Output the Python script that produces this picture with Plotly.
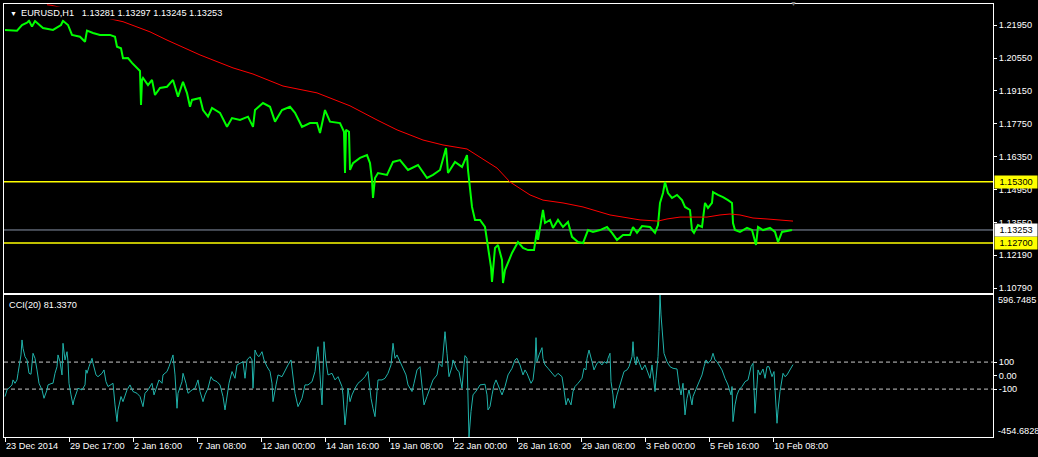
import plotly.graph_objects as go

# ---------------- data (bar index = H1 bar number from 23 Dec 2014) ----------------
price_bars = [0, 12, 17, 22, 24, 27, 30, 38, 48, 56, 58, 63, 67, 75, 80, 82, 88, 95, 105, 110,
              112, 116, 118, 123, 127, 132, 135, 136, 137, 138, 143, 147, 150, 155, 162, 168, 173, 178, 182, 185,
              187, 195, 198, 203, 207, 215, 222, 227, 235, 243, 248, 250, 258, 265, 270, 277, 285, 290, 297, 305,
              312, 315, 320, 325, 335, 339, 340, 341, 344, 345, 348, 355, 362, 365, 367, 368, 370, 373, 382, 388,
              395, 403, 413, 422, 428, 435, 441, 443, 450, 457, 462, 463, 465, 467, 470, 475, 480, 483, 486, 487,
              490, 493, 497, 498, 500, 507, 513, 518, 523, 529, 532, 533, 538, 540, 545, 548, 553, 558, 563, 567,
              573, 578, 583, 588, 595, 602, 607, 612, 618, 625, 628, 632, 637, 645, 648, 650, 653, 655, 658, 660,
              663, 667, 672, 677, 680, 685, 687, 689, 693, 697, 700, 703, 707, 708, 713, 718, 723, 727, 728, 730,
              735, 742, 747, 750, 751, 753, 758, 765, 770, 773, 777, 782, 787]
price_vals = [1.2174, 1.2171, 1.2195, 1.2205, 1.2213, 1.2188, 1.2212, 1.2182, 1.2174, 1.2195, 1.2213, 1.2195, 1.2153, 1.2145, 1.2124, 1.2171, 1.2161, 1.2153, 1.2153, 1.2145,
              1.2103, 1.2096, 1.2054, 1.2055, 1.2034, 1.2013, 1.2000, 1.1856, 1.1962, 1.1970, 1.1940, 1.1962, 1.1898, 1.1928, 1.1933, 1.1962, 1.1891, 1.1954, 1.1906, 1.1848,
              1.1877, 1.1885, 1.1834, 1.1806, 1.1843, 1.1822, 1.1763, 1.1800, 1.1792, 1.1806, 1.1763, 1.1834, 1.1864, 1.1848, 1.1785, 1.1834, 1.1848, 1.1822, 1.1763, 1.1779,
              1.1779, 1.1737, 1.1834, 1.1785, 1.1779, 1.1742, 1.1567, 1.1750, 1.1742, 1.1580, 1.1609, 1.1631, 1.1643, 1.1609, 1.1537, 1.1461, 1.1546, 1.1567, 1.1559, 1.1614,
              1.1622, 1.1580, 1.1601, 1.1546, 1.1559, 1.1580, 1.1673, 1.1567, 1.1614, 1.1593, 1.1643, 1.1580, 1.1508, 1.1423, 1.1368, 1.1368, 1.1338, 1.1262, 1.1168, 1.1105,
              1.1249, 1.1262, 1.1198, 1.1100, 1.1155, 1.1228, 1.1274, 1.1249, 1.1240, 1.1240, 1.1325, 1.1283, 1.1410, 1.1355, 1.1368, 1.1334, 1.1368, 1.1338, 1.1359, 1.1296,
              1.1274, 1.1270, 1.1325, 1.1317, 1.1325, 1.1338, 1.1313, 1.1283, 1.1304, 1.1304, 1.1338, 1.1313, 1.1342, 1.1338, 1.1325, 1.1313, 1.1346, 1.1440, 1.1482, 1.1529,
              1.1482, 1.1461, 1.1474, 1.1452, 1.1423, 1.1410, 1.1325, 1.1313, 1.1346, 1.1338, 1.1440, 1.1419, 1.1440, 1.1486, 1.1474, 1.1465, 1.1452, 1.1440, 1.1355, 1.1325,
              1.1317, 1.1334, 1.1325, 1.1283, 1.1262, 1.1338, 1.1325, 1.1334, 1.1317, 1.1274, 1.1317, 1.1321, 1.13253]

ma_bars = [42, 47, 103, 118, 145, 162, 195, 228, 248, 278, 312, 345, 372, 392, 418, 438, 462, 475, 492, 505,
           525, 538, 558, 578, 605, 635, 653, 662, 668, 675, 688, 702, 715, 725, 735, 748, 762, 775, 788]
ma_vals = [1.2281, 1.2278, 1.2223, 1.2209, 1.2166, 1.2131, 1.2068, 1.2013, 1.1987, 1.1936, 1.1907, 1.1852, 1.1792, 1.1750, 1.1707, 1.1686, 1.1669, 1.1635, 1.1588, 1.1529,
           1.1474, 1.1452, 1.1440, 1.1423, 1.1389, 1.1368, 1.1363, 1.1372, 1.1376, 1.1380, 1.1380, 1.1380, 1.1389, 1.1393, 1.1389, 1.1376, 1.1372, 1.1368, 1.1363]

cci_bars = [0, 2, 7, 8, 10, 12, 13, 16, 17, 18, 20, 22, 24, 26, 28, 30, 32, 34, 37, 39,
            42, 43, 47, 48, 50, 52, 53, 55, 57, 58, 60, 62, 63, 64, 66, 68, 69, 71, 73, 77,
            80, 81, 82, 84, 87, 88, 91, 93, 97, 99, 101, 103, 105, 108, 110, 112, 113, 116, 118, 122,
            125, 128, 132, 135, 138, 140, 143, 147, 149, 152, 154, 157, 158, 162, 164, 168, 170, 172, 173, 177,
            178, 181, 183, 187, 190, 193, 195, 198, 200, 203, 206, 208, 212, 215, 218, 220, 222, 224, 227, 230,
            232, 235, 238, 240, 242, 245, 247, 248, 250, 252, 254, 257, 259, 262, 265, 267, 268, 271, 273, 277,
            280, 283, 286, 288, 290, 293, 297, 300, 303, 307, 310, 312, 313, 315, 317, 318, 319, 321, 323, 327,
            330, 333, 337, 338, 340, 342, 343, 345, 347, 350, 353, 357, 360, 363, 366, 368, 370, 372, 373, 377,
            380, 383, 386, 388, 390, 392, 395, 398, 401, 403, 407, 409, 412, 415, 417, 419, 422, 425, 428, 432,
            434, 437, 438, 440, 442, 444, 447, 448, 450, 452, 454, 457, 459, 460, 462, 463, 464, 466, 468, 472,
            475, 480, 482, 483, 485, 487, 489, 491, 493, 497, 500, 503, 507, 510, 512, 515, 518, 520, 522, 526,
            528, 530, 531, 532, 534, 537, 538, 540, 543, 547, 550, 553, 557, 559, 561, 563, 566, 568, 570, 573,
            577, 579, 581, 582, 584, 587, 589, 592, 594, 597, 599, 602, 603, 605, 606, 608, 609, 612, 614, 617,
            619, 622, 624, 627, 628, 629, 631, 632, 634, 637, 640, 642, 645, 647, 649, 650, 651, 652, 653, 654,
            655, 656, 658, 659, 662, 665, 668, 672, 674, 676, 678, 679, 680, 682, 684, 687, 688, 690, 692, 694,
            697, 699, 701, 703, 706, 708, 710, 712, 714, 717, 720, 723, 726, 727, 728, 730, 732, 734, 737, 740,
            743, 746, 748, 749, 750, 752, 753, 755, 758, 760, 762, 764, 767, 769, 771, 772, 773, 775, 778, 780,
            782, 785, 788]
cci_vals = [-155, -106, -69, -32, -57, -32, 17, 153, 264, 202, 140, 116, 17, 10, 165, 128, 42, -57, -106, -168,
            -106, -69, -57, -57, 17, 66, 153, 103, 5, 239, 116, 177, 103, -57, -143, -217, -180, -131, -94, -106,
            -69, 42, 17, 66, 128, 91, 5, -8, 17, 42, -45, -81, -69, -57, -217, -341, -254, -155, -193, -106,
            -69, -118, -131, -155, -230, -131, -106, -57, -143, -81, -32, -57, 5, 30, 66, 153, 5, -242, -131, -45,
            17, -57, -131, -106, -94, -32, -118, -193, -143, -94, -8, -32, -45, -69, -155, -254, -143, -57, 30, -20,
            79, 91, 103, -20, 116, 140, 116, -94, 189, 153, 140, 177, 116, 66, 30, -57, -193, -69, 5, -8,
            42, 79, 116, 5, -131, -230, -168, -69, -69, -45, 30, 165, 214, 5, -217, 5, 251, 103, 5, 17,
            -32, -8, -81, -143, -365, -217, -94, -193, -143, -94, -57, -32, -8, 30, -168, -242, -304, -118, -32, -32,
            -20, 17, 79, 239, 128, 153, 103, 66, 5, -69, -118, -57, 42, 66, -69, -217, -155, -94, -32, 5,
            91, 66, 177, 325, 165, -8, 66, 116, 79, 42, 30, -94, 79, 148, 128, -143, -454.6828, -266, -143, -106,
            -69, -64, -143, -254, -230, -143, -69, -32, -69, -143, -81, 5, 54, 116, 128, 79, 5, 42, 17, -57,
            -32, 91, 281, 103, 153, 207, 128, 79, 54, 17, -8, 17, -8, -106, -217, -168, -217, -118, -81, -57,
            -20, 54, 42, 128, 189, 103, 42, 91, 103, 79, 103, 91, 128, 165, -45, -143, -242, -143, -94, -8,
            30, 42, 66, 140, 251, 140, 79, 140, 103, 42, 79, 42, -20, 79, -57, -118, -20, 66, 140, 325,
            596.7485, 449, 276, 165, 103, 66, 54, 49, -69, -143, -57, -143, -291, -168, -106, -217, -155, -118, -81, -45,
            5, 66, 116, 91, 116, 165, 116, 103, 79, 42, -20, -69, -143, -81, -341, -217, -143, -106, -81, -45,
            -32, 66, 91, -45, -279, -69, 42, 5, 49, -20, 66, 66, -8, 30, -242, -353, -254, -118, 17, -8,
            5, 42, 81.337]

tick_bars = [0, 64, 128, 192, 256, 320, 384, 448, 512, 576, 640, 704, 768]
tick_labels = ["23 Dec 2014", "29 Dec 17:00", "2 Jan 16:00", "7 Jan 08:00", "12 Jan 00:00",
               "14 Jan 16:00", "19 Jan 08:00", "22 Jan 00:00", "26 Jan 16:00", "29 Jan 08:00",
               "3 Feb 00:00", "5 Feb 16:00", "10 Feb 08:00"]
price_ticks = [1.21950, 1.20550, 1.19150, 1.17750, 1.16350, 1.14950, 1.13550, 1.12190, 1.10790]
level_lines = [1.15300, 1.12700]
last_price = 1.13253
cci_levels = [100, -100]
cci_ticks = [100, 0, -100]
cci_tick_labels = ["100", "0.00", "-100"]
cci_max = 596.7485
cci_min = -454.6828
title_text = "EURUSD,H1\u00a0\u00a0 1.13281 1.13297 1.13245 1.13253"
cci_title = "CCI(20) 81.3370"

# ---------------- figure ----------------
FONT = "Liberation Sans"
FS = 9.2
W, H = 1038, 457

fig = go.Figure()
fig.add_trace(go.Scatter(x=price_bars, y=price_vals, mode="lines",
                         line=dict(color="#00FF00", width=2), xaxis="x", yaxis="y",
                         hoverinfo="skip", showlegend=False))
fig.add_trace(go.Scatter(x=ma_bars, y=ma_vals, mode="lines",
                         line=dict(color="#FF0000", width=1), xaxis="x", yaxis="y",
                         hoverinfo="skip", showlegend=False))
fig.add_trace(go.Scatter(x=cci_bars, y=cci_vals, mode="lines",
                         line=dict(color="#20B2AA", width=1), xaxis="x2", yaxis="y2",
                         hoverinfo="skip", showlegend=False))

shapes = []
for lv in level_lines:
    shapes.append(dict(type="line", xref="x domain", yref="y", x0=0, x1=1, y0=lv, y1=lv,
                       line=dict(color="#FFFF00", width=1.5), layer="below"))
shapes.append(dict(type="line", xref="x domain", yref="y", x0=0, x1=1, y0=last_price, y1=last_price,
                   line=dict(color="#8894A8", width=1), layer="below"))
for lv in cci_levels:
    shapes.append(dict(type="line", xref="x2 domain", yref="y2", x0=0, x1=1, y0=lv, y1=lv,
                       line=dict(color="#C8C8C8", width=1, dash="4px,3px"), layer="below"))

annotations = [
    dict(text=title_text, xref="paper", yref="paper", x=0, y=1, xanchor="left", yanchor="top",
         xshift=15, yshift=-2, showarrow=False, bgcolor="#000000", borderpad=1,
         font=dict(family=FONT, size=FS, color="#FFFFFF")),
    dict(text="\u25BC", xref="paper", yref="paper", x=0, y=1, xanchor="left", yanchor="top",
         xshift=4, yshift=-4, showarrow=False, font=dict(family=FONT, size=7, color="#FFFFFF")),
    dict(text=cci_title, xref="paper", yref="paper", x=0, y=0.32794, xanchor="left", yanchor="top",
         xshift=3, yshift=-3, showarrow=False, font=dict(family=FONT, size=FS, color="#FFFFFF")),
    dict(text="\u25BC", xref="x", yref="paper", x=788, y=1, xanchor="center", yanchor="middle",
         yshift=1, showarrow=False, font=dict(family=FONT, size=7, color="#808080")),
    dict(text=f"{cci_max:.4f}", xref="paper", yref="y2", x=1, y=cci_max, xanchor="left", yanchor="top",
         xshift=3, yshift=2, showarrow=False, font=dict(family=FONT, size=FS, color="#FFFFFF")),
    dict(text=f"{cci_min:.4f}", xref="paper", yref="y2", x=1, y=cci_min, xanchor="left", yanchor="bottom",
         xshift=3, yshift=-1, showarrow=False, font=dict(family=FONT, size=FS, color="#FFFFFF")),
]
for lv in level_lines:
    annotations.append(dict(text=f"{lv:.5f}", xref="paper", yref="y", x=1, y=lv, xanchor="left",
                            yanchor="middle", xshift=1, showarrow=False, bgcolor="#FFFF00", borderpad=1,
                            width=40, align="center",
                            font=dict(family=FONT, size=FS, color="#000000")))
annotations.append(dict(text=f"{last_price:.5f}", xref="paper", yref="y", x=1, y=last_price, xanchor="left",
                        yanchor="middle", xshift=1, showarrow=False, bgcolor="#FFFFFF", borderpad=1,
                        width=40, align="center",
                        font=dict(family=FONT, size=FS, color="#000000")))

axis_common = dict(showgrid=False, zeroline=False, showline=True, mirror=True,
                   linecolor="#FFFFFF", linewidth=1, automargin=False,
                   tickfont=dict(family=FONT, size=FS, color="#FFFFFF"),
                   tickcolor="#FFFFFF", fixedrange=True)

fig.update_layout(
    width=W, height=H,
    margin=dict(l=4, r=45, t=4, b=20, autoexpand=False),
    paper_bgcolor="#000000", plot_bgcolor="#000000",
    showlegend=False,
    shapes=shapes, annotations=annotations,
    xaxis=dict(domain=[0, 1], range=[-1, 988], anchor="y", showticklabels=False, ticks="",
               matches="x2", **axis_common),
    xaxis2=dict(domain=[0, 1], range=[-1, 988], anchor="y2", tickvals=tick_bars, ticktext=tick_labels,
                ticks="outside", ticklen=4, tickangle=0, ticklabelposition="outside right",
                ticklabelstandoff=0, **axis_common),
    yaxis=dict(domain=[0.33256, 1], range=[1.10579, 1.22841], anchor="x", side="right",
               tickvals=price_ticks, ticktext=[f"{v:.5f}" for v in price_ticks],
               ticks="outside", ticklen=3, **axis_common),
    yaxis2=dict(domain=[0, 0.32794], range=[cci_min, cci_max], anchor="x2", side="right",
                tickvals=cci_ticks, ticktext=cci_tick_labels,
                ticks="outside", ticklen=3, **axis_common),
)

fig.write_html("out.html", config={"displayModeBar": False, "staticPlot": True},
               post_script="document.body.style.margin='0';document.body.style.padding='0';"
                           "document.body.style.background='#000';")
